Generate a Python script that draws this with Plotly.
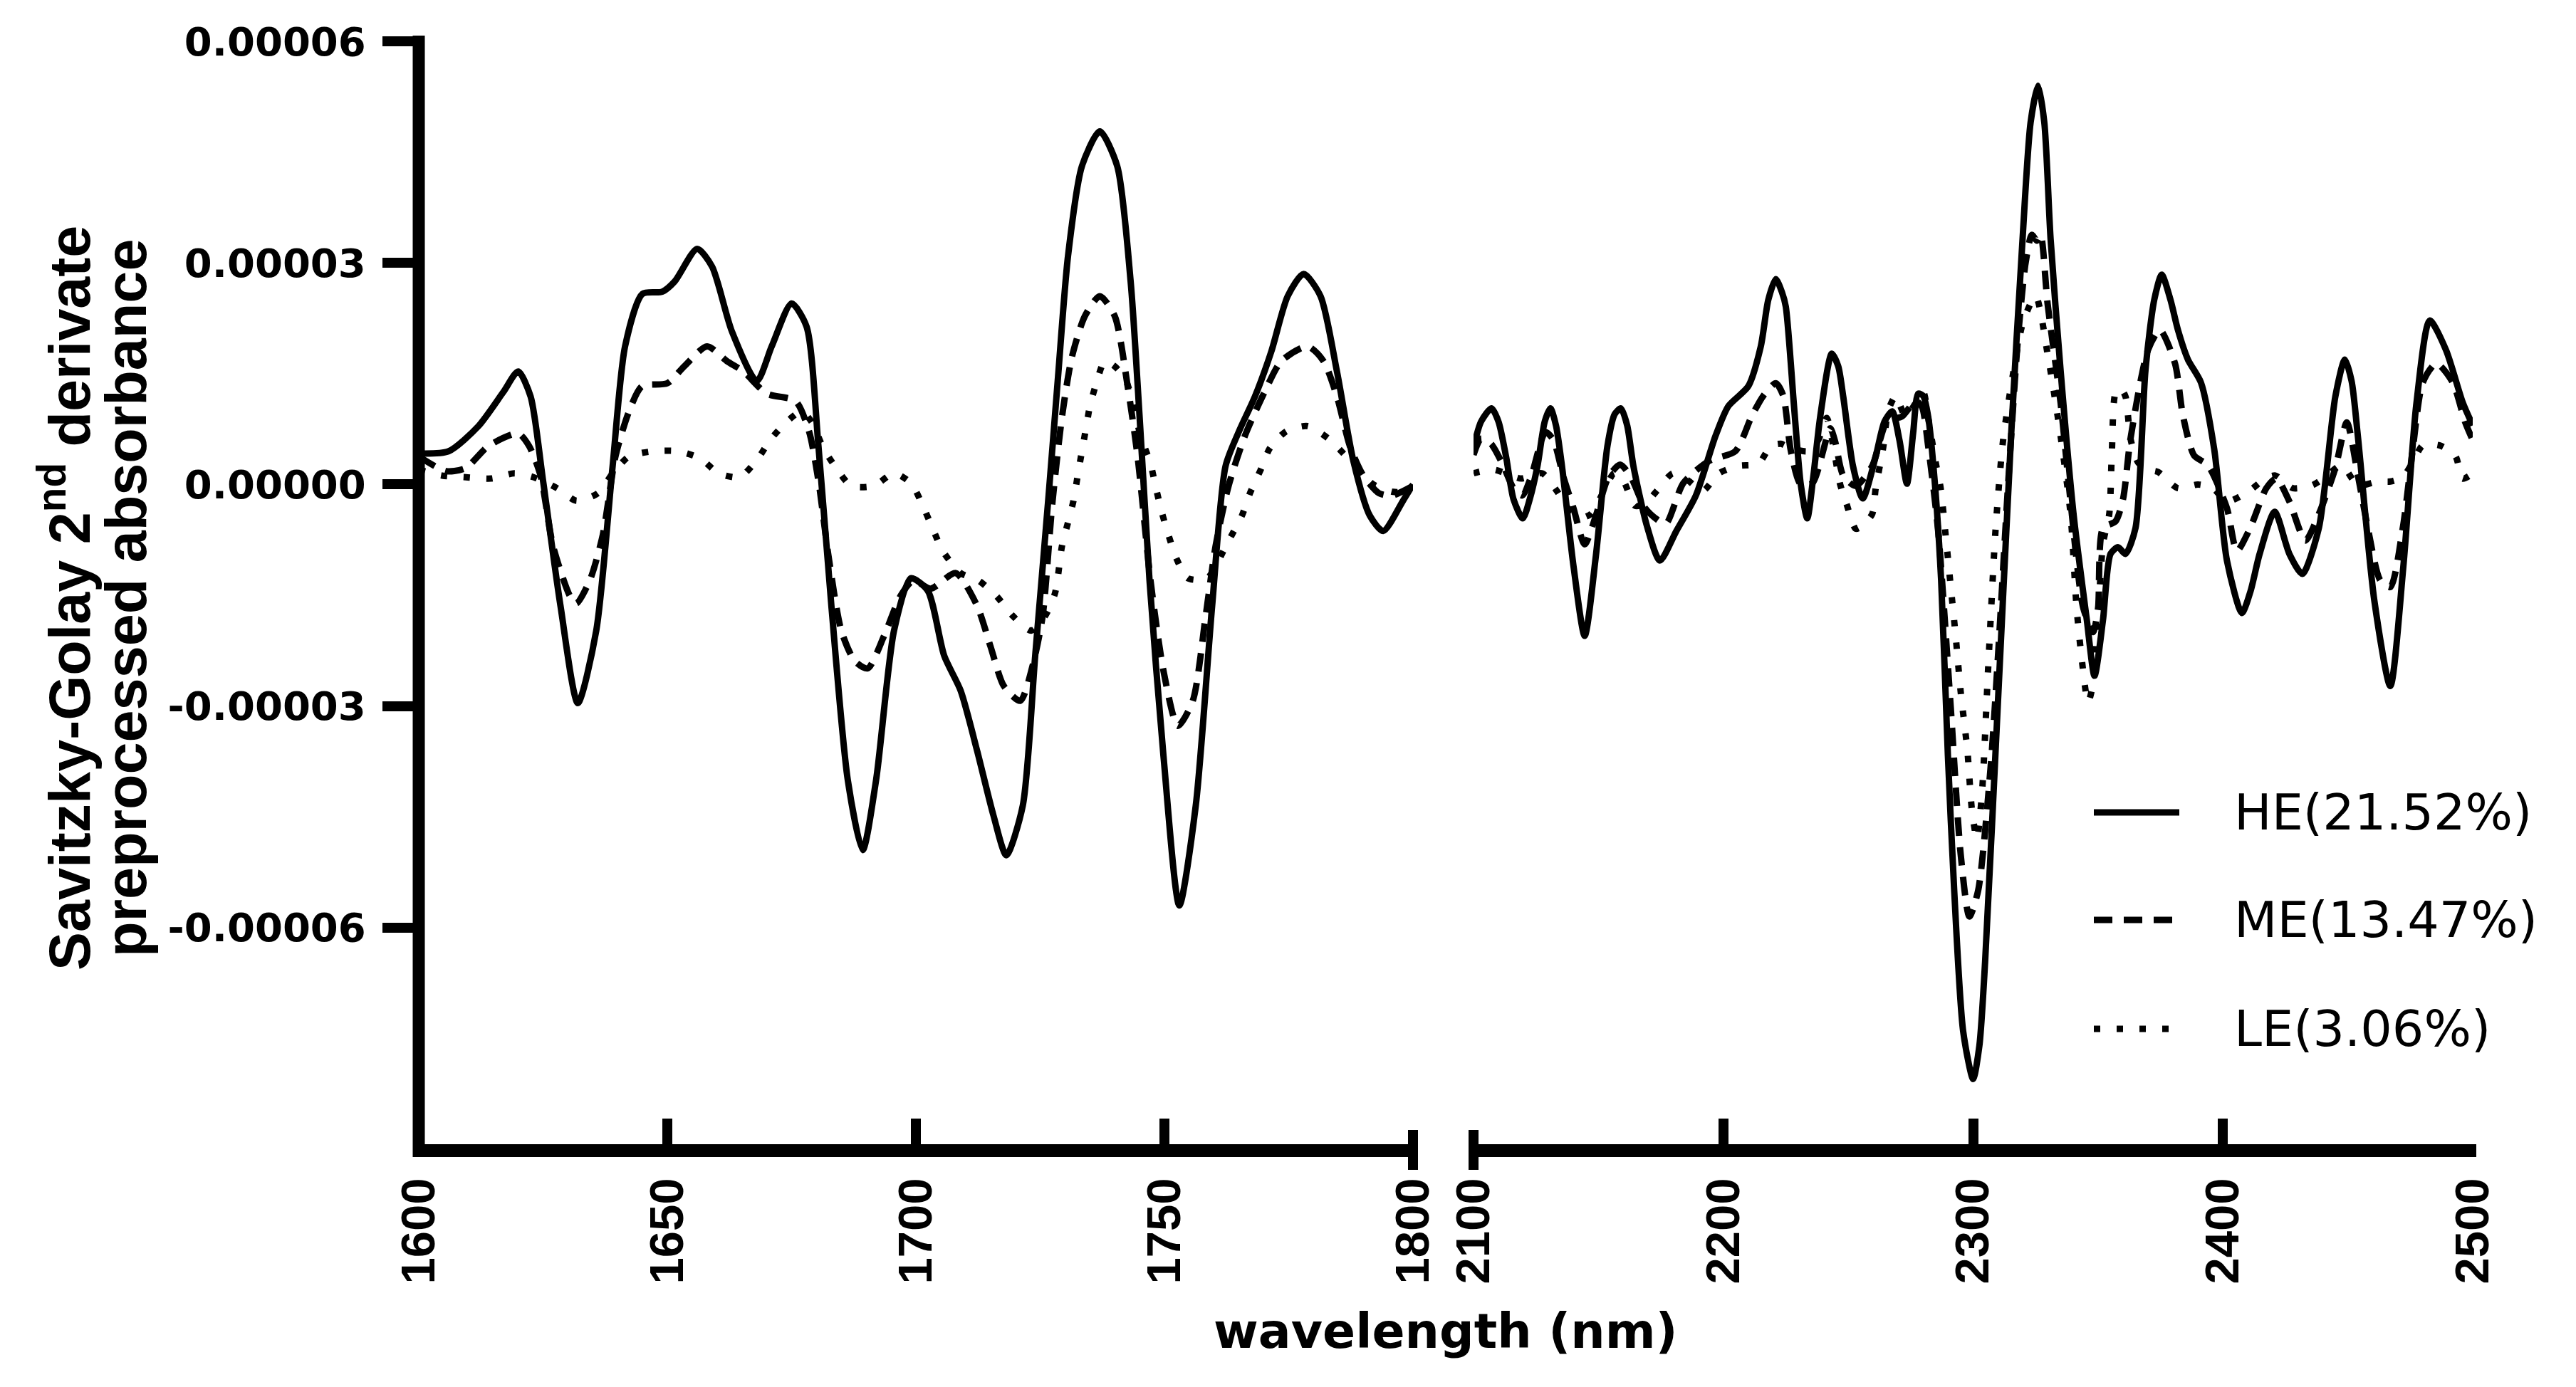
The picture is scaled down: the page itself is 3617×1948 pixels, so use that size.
import plotly.graph_objects as go

# ---------------- data (values in units of 1e-5) ----------------
SCALE = 1e-5
series_names = ["HE(21.52%)", "ME(13.47%)", "LE(3.06%)"]

# Left segment 1600-1800 nm
he_l_x = [1600, 1606, 1612, 1617, 1620, 1622.5, 1625, 1628.5, 1632, 1635.7, 1639, 1641.5, 1645, 1649,
          1651.5, 1656, 1659, 1663, 1668, 1671, 1675, 1678, 1680.4, 1683, 1686.3, 1689.3, 1692, 1695.6,
          1699, 1702.4, 1705.7, 1709, 1712.3, 1715.6, 1718.2, 1721.5, 1724, 1726.7, 1728.6, 1730.6,
          1733.4, 1737, 1740.5, 1743.2, 1745, 1747, 1749.8, 1753, 1756.3, 1759.6, 1762.3, 1765, 1768.2,
          1771.5, 1774.8, 1778, 1781.4, 1784.7, 1788, 1791.3, 1794, 1798, 1800]
he_l_y = [0.42, 0.45, 0.79, 1.25, 1.53, 1.19, 0.05, -1.64, -2.96, -1.98, 0.25, 1.87, 2.58, 2.61,
          2.75, 3.19, 2.95, 2.07, 1.40, 1.87, 2.45, 2.14, 0.52, -1.64, -4.0, -4.95, -4.0, -1.98,
          -1.27, -1.44, -2.32, -2.79, -3.6, -4.48, -5.02, -4.35, -2.32, -0.15, 1.46, 3.09,
          4.31, 4.78, 4.31, 2.75, 0.92, -1.3, -3.67, -5.7, -4.35, -1.64, 0.25, 0.72, 1.19,
          1.8, 2.55, 2.85, 2.55, 1.53, 0.32, -0.42, -0.63, -0.22, 0.0]

me_l_x = [1600, 1605.5, 1609.4, 1614, 1620, 1622.2, 1624.5, 1627, 1630.4, 1631.7, 1634.4, 1637, 1639.6,
          1642.3, 1644.9, 1650, 1653.4, 1658, 1662, 1665.3, 1670, 1675.8, 1678.5, 1680.4, 1682.4, 1685,
          1687.7, 1690.3, 1693.6, 1696.9, 1699.5, 1703, 1708, 1712.3, 1715, 1717.7, 1721, 1723.5,
          1725.5, 1727.4, 1729.4, 1731.4, 1734, 1737, 1740, 1742.6, 1744.6, 1747.2, 1749.8, 1752.7,
          1755.7, 1758.3, 1760.3, 1762.9, 1766.2, 1770.2, 1773.5, 1778.8, 1782, 1784.7, 1787.3, 1790,
          1793.2, 1795.8, 1800]
me_l_y = [0.38, 0.18, 0.22, 0.52, 0.69, 0.52, 0.12, -0.83, -1.51, -1.61, -1.3, -0.69, 0.39,
          0.99, 1.33, 1.37, 1.6, 1.87, 1.67, 1.53, 1.23, 1.13, 0.72, 0.05, -0.96, -1.98,
          -2.39, -2.49, -2.05, -1.51, -1.3, -1.41, -1.2, -1.64, -2.19, -2.73, -2.93, -2.45,
          -1.78, -0.29, 0.92, 1.73, 2.28, 2.55, 2.28, 1.33, 0.38, -1.3, -2.52, -3.27,
          -2.93, -1.78, -0.83, -0.02, 0.66, 1.26, 1.67, 1.87, 1.67, 1.19, 0.52, 0.12,
          -0.12, -0.15, -0.02]

le_l_x = [1600, 1604.7, 1609, 1614.6, 1619.2, 1623, 1627.8, 1631.7, 1636, 1639, 1642.3, 1647.2, 1652.1,
          1656.7, 1660.3, 1664.6, 1668.2, 1670.9, 1674.2, 1677, 1679, 1681.4, 1684, 1687, 1691.5,
          1695.6, 1699.1, 1701.4, 1703.4, 1705.4, 1709, 1712.6, 1716.2, 1719.5, 1723.2, 1726, 1728,
          1729.4, 1730.7, 1731.7, 1732.7, 1733.4, 1734.3, 1735, 1736.3, 1738, 1740, 1742.3, 1745.2,
          1747.2, 1748.2, 1749.4, 1750.7, 1752.4, 1754.7, 1758.6, 1762.6, 1765.6, 1767.2, 1769.5,
          1771.2, 1774.5, 1778.8, 1783, 1786, 1788.3, 1792, 1796, 1800]
le_l_y = [0.2, 0.12, 0.1, 0.08, 0.15, 0.1, -0.05, -0.22, -0.12, 0.15, 0.38, 0.45, 0.45,
          0.35, 0.15, 0.1, 0.35, 0.62, 0.86, 0.99, 0.85, 0.49, 0.22, -0.02, -0.02,
          0.15, 0.01, -0.29, -0.6, -0.9, -1.2, -1.3, -1.51, -1.78, -1.98, -1.78, -1.47,
          -0.83, -0.49, -0.22, 0.18, 0.45, 0.79, 1.06, 1.37, 1.67, 1.6, 1.40, 0.66,
          0.28, -0.02, -0.36, -0.66, -1.0, -1.27, -1.27, -0.8, -0.42, -0.12, 0.22,
          0.49, 0.72, 0.79, 0.62, 0.42, 0.25, 0.0, -0.1, -0.1]

# Right segment 2100-2500 nm
he_r_x = [2100, 2103, 2107.2, 2110, 2113, 2116, 2119.7, 2122.5, 2125.6, 2128.5, 2130.8, 2133, 2135.4,
          2140, 2144.5, 2149, 2153.6, 2156.5, 2159, 2161.5, 2164, 2169.4, 2174.6, 2181.2, 2189, 2196.9,
          2202, 2210, 2215, 2218, 2221, 2223.5, 2225, 2228.3, 2231, 2233.6, 2236, 2238.8, 2243.4, 2246,
          2248, 2251.9, 2255.8, 2261, 2264.5, 2267.6, 2270.5, 2273.5, 2276, 2278, 2280, 2282, 2284.6,
          2287.2, 2289.9, 2292.4, 2296, 2300, 2302.5, 2304.8, 2310, 2315.2, 2319.8, 2323, 2326, 2328.5,
          2331, 2335, 2340.2, 2345.5, 2348.6, 2352, 2355, 2358, 2361, 2365, 2369, 2372.5, 2375.5, 2379,
          2382, 2386, 2391.2, 2396.5, 2401.6, 2407.6, 2411, 2414.7, 2420.7, 2426.6, 2431.8, 2438.4,
          2445, 2448.8, 2451.5, 2454, 2460.6, 2467, 2472.2, 2477.5, 2482.8, 2489.3, 2496, 2500]
he_r_y = [0.5, 0.85, 1.03, 0.85, 0.38, -0.2, -0.46, -0.2, 0.25, 0.85, 1.03, 0.8, 0.25,
          -1.1, -2.05, -0.96, 0.52, 0.95, 1.03, 0.8, 0.25, -0.56, -1.03, -0.63, -0.15, 0.66,
          1.06, 1.33, 1.87, 2.5, 2.78, 2.6, 2.41, 1.06, 0.0, -0.46, 0.1, 0.92, 1.77, 1.6,
          1.19, 0.25, -0.19, 0.38, 0.85, 0.99, 0.6, 0.01, 0.7, 1.23, 1.2, 0.92, 0.05,
          -1.3, -3.67, -5.48, -7.4, -8.05, -7.6, -6.46, -2.9, 0.66, 3.33, 4.9, 5.4, 4.9,
          3.33, 1.55, -0.4, -1.83, -2.59, -1.83, -0.94, -0.85, -0.94, -0.59, 1.55, 2.5, 2.84, 2.5,
          2.09, 1.69, 1.38, 0.48, -1.03, -1.74, -1.45, -0.94, -0.37, -0.94, -1.21, -0.59,
          1.19, 1.69, 1.4, 0.66, -1.57, -2.73, -1.12, 1.11, 2.22, 1.82, 1.11, 0.8]

me_r_x = [2100, 2103, 2107, 2111.7, 2116, 2119.5, 2123, 2128.8, 2132, 2136, 2140, 2144.5, 2149, 2154,
          2158.7, 2163, 2168.7, 2174.6, 2177.3, 2184, 2194.4, 2204.8, 2211.3, 2216, 2221, 2224, 2227,
          2231, 2235.7, 2242.8, 2244.7, 2248, 2253, 2259.6, 2265.6, 2271.5, 2277, 2279.5, 2282, 2286,
          2291, 2295, 2298.5, 2302, 2307, 2310, 2314, 2318, 2321, 2323.5, 2325.5, 2327, 2329.8, 2335,
          2339, 2344, 2348, 2350, 2352, 2357, 2360, 2363, 2370, 2374.8, 2380.8, 2384, 2388.5, 2394,
          2401.6, 2405.6, 2410.9, 2417.4, 2421.4, 2426.6, 2433, 2438.4, 2445, 2449.6, 2454, 2458,
          2463, 2467, 2472, 2476, 2480, 2485.4, 2492, 2497, 2500]
me_r_y = [0.4, 0.62, 0.55, 0.27, -0.05, -0.15, 0.1, 0.71, 0.6, 0.1, -0.32, -0.81, -0.42, 0.1,
          0.27, 0.1, -0.32, -0.5, -0.52, 0.02, 0.32, 0.45, 0.92, 1.2, 1.37, 1.2, 0.46,
          0.0, 0.02, 0.76, 0.59, 0.12, -0.02, 0.25, 0.86, 0.92, 1.13, 1.05, 0.52, -0.63,
          -3.0, -5.0, -5.85, -5.5, -3.83, -2.3, 0.0, 2.0, 3.0, 3.38, 3.3, 3.38, 2.45, 1.11,
          -0.23, -1.66, -2.0, -1.68, -0.59, -0.5, -0.2, 0.62, 1.82, 2.09, 1.64, 0.93, 0.39, 0.26,
          -0.32, -0.9, -0.59, -0.05, 0.08, -0.23, -0.76, -0.4, 0.22, 0.84, 0.13, -0.59,
          -1.3, -1.39, -0.59, 0.48, 1.38, 1.64, 1.38, 0.84, 0.6]

le_r_x = [2100, 2102, 2108, 2113, 2119, 2127.5, 2133.4, 2138, 2143, 2147, 2152, 2156.3, 2160, 2164.7,
          2169, 2173.3, 2179.8, 2186, 2191.7, 2198.2, 2206, 2214, 2219, 2223, 2227, 2234, 2238, 2241.4,
          2244.7, 2246.7, 2249.3, 2253, 2256, 2259.6, 2261, 2264, 2266, 2269, 2271, 2273, 2276, 2280,
          2282, 2285, 2287, 2289, 2291, 2293, 2295, 2297.7, 2299.5, 2301.5, 2303.5, 2306, 2309, 2312,
          2316, 2320, 2325, 2330, 2335, 2339, 2341.4, 2343.5, 2346, 2348, 2350, 2352, 2354.5, 2355.5,
          2357, 2359, 2361, 2363, 2366, 2370, 2374, 2382, 2390, 2396, 2401.6, 2410, 2417, 2421, 2428,
          2435.8, 2441, 2447.5, 2454, 2462, 2467, 2472, 2476, 2480, 2486.6, 2493, 2496, 2500]
le_r_y = [0.15, 0.17, 0.2, 0.15, 0.08, 0.15, -0.09, -0.33, -0.45, -0.4, -0.1, 0.15, 0.05, -0.29,
          -0.25, -0.09, 0.15, 0.05, -0.09, 0.15, 0.25, 0.28, 0.52, 0.55, 0.49, 0.45, 0.6, 0.9,
          0.38, 0.01, -0.26, -0.6, -0.55, -0.4, -0.05, 0.5, 1.0, 1.2, 1.05, 0.91, 1.05, 1.25,
          0.9, 0.3, -0.05, -0.69, -1.37, -2.05, -2.8, -3.6, -4.4, -4.8, -4.2, -2.5, -0.6, 0.6,
          1.5, 2.2, 2.55, 1.73, 0.66, -0.4, -1.66, -2.37, -2.95, -2.7, -1.8, -0.8, -0.4, 0.4,
          1.24, 1.3, 1.19, 0.62, 0.3, 0.2, 0.17, -0.05, 0.0, -0.05, -0.23, -0.1, 0.08, 0.12, -0.05,
          -0.01, 0.1, 0.26, -0.01, 0.04, 0.04, 0.1, 0.3, 0.53, 0.53, 0.39, 0.08, 0.15]

x_ticks_left = [1600, 1650, 1700, 1750, 1800]
x_ticks_right = [2100, 2200, 2300, 2400, 2500]
y_tick_vals = [-6e-5, -3e-5, 0, 3e-5, 6e-5]
y_tick_text = ["-0.00006", "-0.00003", "0.00000", "0.00003", "0.00006"]

# ---------------- layout geometry (pixels) ----------------
W, H = 3617, 1948
L, R, T, B = 588, 145, 58, 334
PW, PH = W - L - R, H - T - B


def px(x):
    return (x - L) / PW


def py(y):
    return (H - B - y) / PH


LEFT_DOM = [0, px(1984)]
RIGHT_DOM = [px(2069), 1]

styles = [dict(color="black", width=9, dash="solid"),
          dict(color="black", width=9, dash="26px,16px"),
          dict(color="black", width=9, dash="9px,23px")]

fig = go.Figure()
left_sets = [(he_l_x, he_l_y), (me_l_x, me_l_y), (le_l_x, le_l_y)]
right_sets = [(he_r_x, he_r_y), (me_r_x, me_r_y), (le_r_x, le_r_y)]
for i, (xs, ys) in enumerate(left_sets):
    fig.add_trace(go.Scatter(x=xs, y=[v * SCALE for v in ys], mode="lines", name=series_names[i],
                             line=dict(shape="spline", smoothing=0.7, **styles[i]),
                             xaxis="x", yaxis="y", showlegend=False))
for i, (xs, ys) in enumerate(right_sets):
    fig.add_trace(go.Scatter(x=xs, y=[v * SCALE for v in ys], mode="lines", name=series_names[i],
                             line=dict(shape="spline", smoothing=0.7, **styles[i]),
                             xaxis="x2", yaxis="y", showlegend=False))

tick_font_x = dict(family="Liberation Sans, Arial, sans-serif", size=67, color="black", weight="bold")
common_x = dict(showgrid=False, zeroline=False, showline=False, ticks="inside", ticklen=43,
                tickwidth=14, tickcolor="black", tickangle=-90, tickfont=tick_font_x,
                ticklabelstandoff=26, anchor="y")

fig.update_layout(
    width=W, height=H,
    margin=dict(l=L, r=R, t=T, b=B),
    paper_bgcolor="white", plot_bgcolor="white",
    xaxis=dict(domain=LEFT_DOM, range=[1600, 1800], tickvals=x_ticks_left,
               ticktext=[str(v) for v in x_ticks_left], **common_x),
    xaxis2=dict(domain=RIGHT_DOM, range=[2100, 2500], tickvals=x_ticks_right,
                ticktext=[str(v) for v in x_ticks_right], **common_x),
    yaxis=dict(range=[-9e-5, 6e-5], tickvals=y_tick_vals, ticktext=y_tick_text,
               showgrid=False, zeroline=False, showline=False, ticks="outside", ticklen=50,
               tickwidth=14, tickcolor="black", ticklabelstandoff=12,
               tickfont=dict(family="DejaVu Sans", size=56, color="black", weight="bold"), anchor="x"),
    showlegend=False,
    font=dict(family="DejaVu Sans", color="black"),
)

shapes = []
# axis lines
shapes.append(dict(type="line", xref="paper", yref="paper", x0=px(588), x1=px(588),
                   y0=py(50), y1=py(1625), line=dict(color="black", width=17)))
shapes.append(dict(type="line", xref="paper", yref="paper", x0=px(580), x1=px(1988),
                   y0=py(1616), y1=py(1616), line=dict(color="black", width=18)))
shapes.append(dict(type="line", xref="paper", yref="paper", x0=px(2065), x1=px(3477),
                   y0=py(1616), y1=py(1616), line=dict(color="black", width=18)))
# axis break marks
for xb in (1984, 2069):
    shapes.append(dict(type="line", xref="paper", yref="paper", x0=px(xb), x1=px(xb),
                       y0=py(1587), y1=py(1643), line=dict(color="black", width=14)))
# legend samples
leg_y = [1141, 1292, 1445]
for i, yy in enumerate(leg_y):
    shapes.append(dict(type="line", xref="paper", yref="paper", x0=px(2940), x1=px(3060),
                       y0=py(yy), y1=py(yy), line=styles[i]))

annotations = []
for i, yy in enumerate(leg_y):
    annotations.append(dict(text=series_names[i], xref="paper", yref="paper", x=px(3135), y=py(yy),
                            xanchor="left", yanchor="middle", showarrow=False,
                            font=dict(family="DejaVu Sans", size=70, color="black")))
annotations.append(dict(text="wavelength (nm)", xref="paper", yref="paper",
                        x=px(2030), y=py(1869), xanchor="center", yanchor="middle", showarrow=False,
                        font=dict(family="DejaVu Sans", size=68, color="black", weight="bold")))
annotations.append(dict(text="Savitzky-Golay 2<sup>nd</sup> derivate", xref="paper", yref="paper",
                        x=px(92), y=py(840), xanchor="center", yanchor="middle", showarrow=False,
                        textangle=-90,
                        font=dict(family="Liberation Sans, Arial, sans-serif", size=81, color="black",
                                  weight="bold")))
annotations.append(dict(text="preprocessed absorbance", xref="paper", yref="paper",
                        x=px(177), y=py(840), xanchor="center", yanchor="middle", showarrow=False,
                        textangle=-90,
                        font=dict(family="Liberation Sans, Arial, sans-serif", size=81, color="black",
                                  weight="bold")))

fig.update_layout(shapes=shapes, annotations=annotations)
fig.write_html("out.html")
